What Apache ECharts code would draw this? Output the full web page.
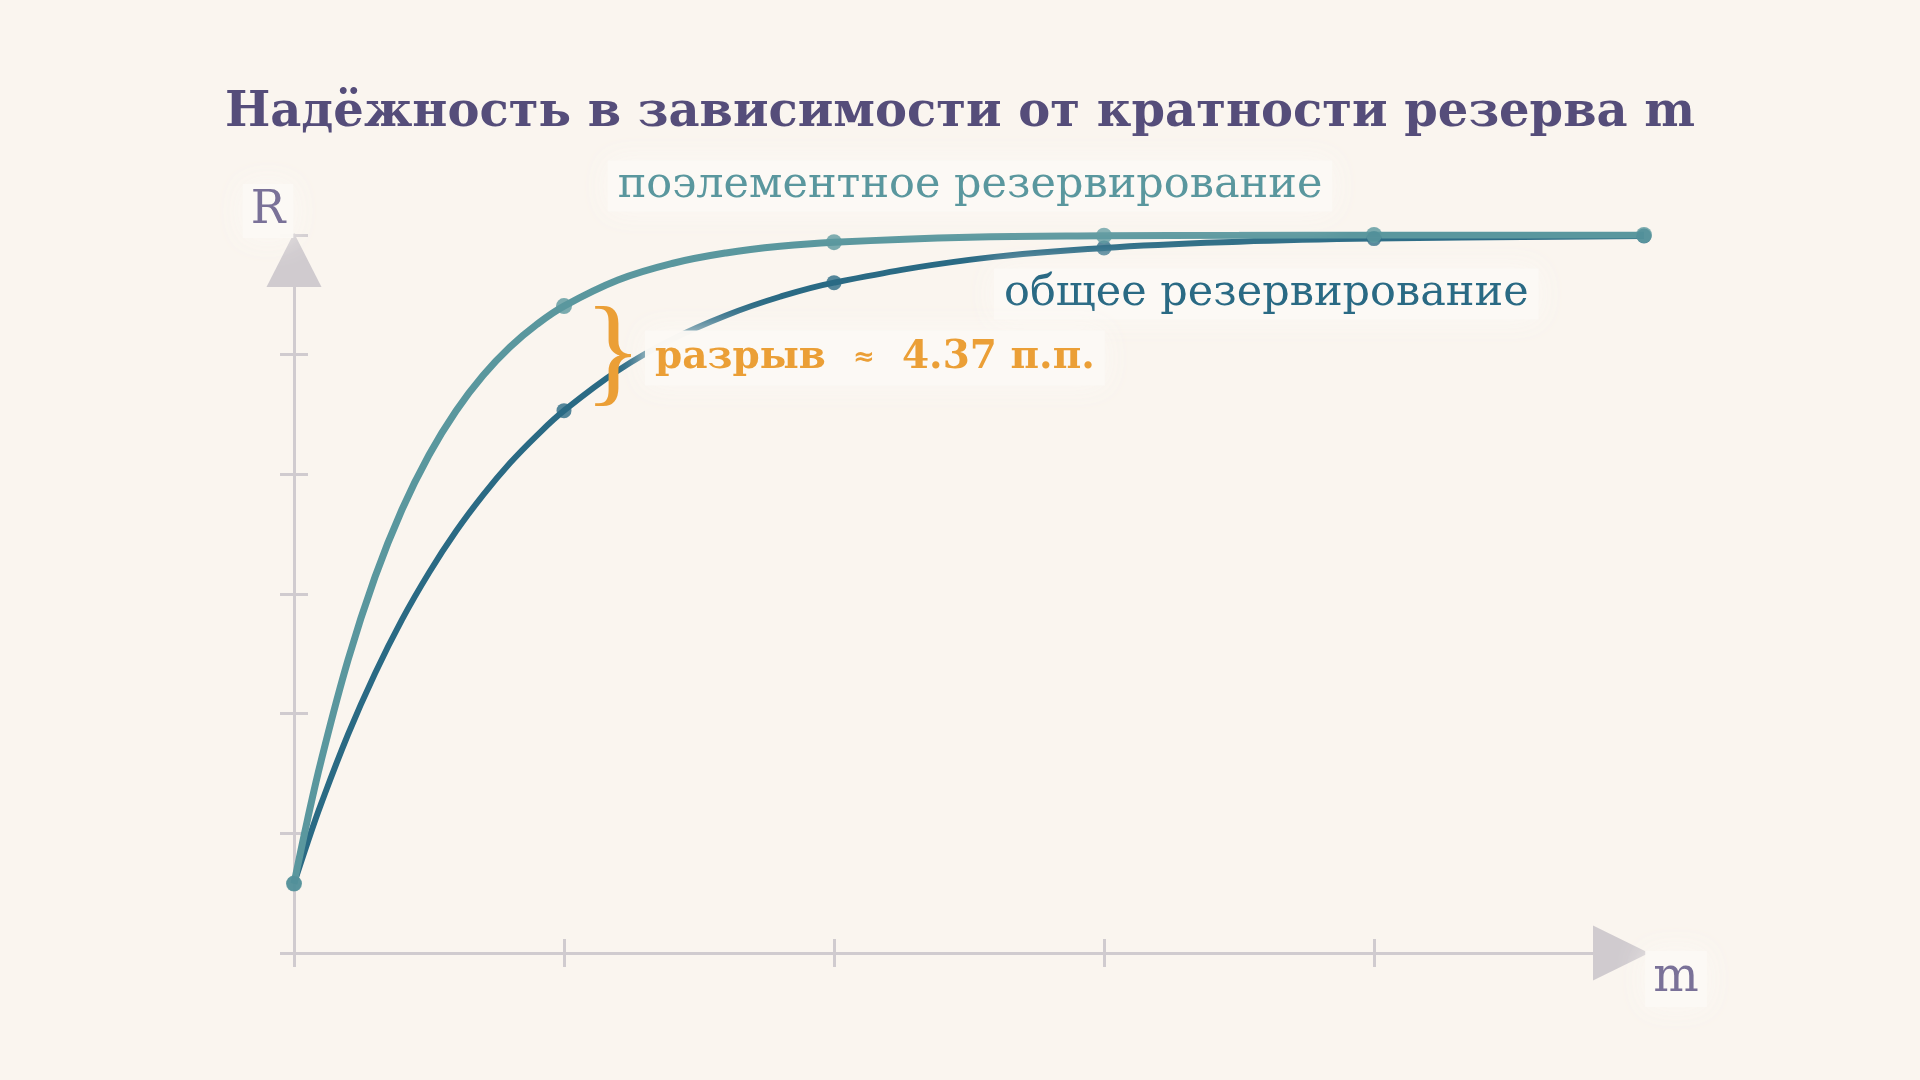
<!DOCTYPE html>
<html>
<head>
<meta charset="utf-8">
<script src="https://cdn.jsdelivr.net/npm/echarts@6/dist/echarts.min.js"></script>
<style>
  html, body { margin: 0; padding: 0; background: #faf5ef; }
  #chart { width: 1920px; height: 1080px; }
</style>
</head>
<body>
<div id="chart"></div>
<script>
// кратность резерва m и надёжность в узлах
const mSteps = [0, 1, 2, 3, 4, 5];
const rElement = [0.729, 0.9703, 0.9970, 0.9997, 1.0, 1.0];
const rGeneral = [0.729, 0.9266, 0.9801, 0.9946, 0.9985, 0.9996];

// промежуточные точки кривых
const curveM = [0, 0.05, 0.1, 0.2, 0.3, 0.4, 0.5, 0.6, 0.7, 0.8, 0.9, 1, 1.2, 1.4, 1.6, 1.8, 2, 2.5, 3, 3.5, 4, 5];
const curveElementR = [0.729, 0.7557, 0.7801, 0.8224, 0.8571, 0.8853, 0.9081, 0.9265, 0.9413, 0.9532, 0.9627, 0.9703,
  0.9812, 0.9881, 0.9925, 0.9953, 0.9970, 0.9991, 0.9997, 0.9999, 1.0, 1.0];
const curveGeneralR = [0.729, 0.7461, 0.7622, 0.7913, 0.8168, 0.8393, 0.8589, 0.8762, 0.8913, 0.9047, 0.9163, 0.9266,
  0.9434, 0.9564, 0.9664, 0.9742, 0.9801, 0.9896, 0.9946, 0.9972, 0.9985, 0.9996];

const xTicks = [0, 1, 2, 3, 4];
const yTicks = { min: 0.7, max: 1.0, step: 0.05 };

const BG = '#faf5ef';
const AXIS = '#d0cbcf';
const C_ELEM = '#5a979e';
const C_GEN = '#2a6a84';
const C_GAP = '#eb9f36';
const SERIF = '"DejaVu Serif", serif';

const pairs = (xs, ys) => xs.map((x, i) => [x, ys[i]]);

const chart = echarts.init(document.getElementById('chart'));

const xBase = { type: 'value', min: 0, max: 5, interval: 1, position: 'bottom', splitLine: { show: false }, axisLabel: { show: false } };
const yBase = { type: 'value', min: yTicks.min, max: yTicks.max, interval: yTicks.step, position: 'left', splitLine: { show: false }, axisLabel: { show: false } };
const tick = { length: 14, lineStyle: { color: AXIS, width: 3 } };

// мягкая подложка под подписями
const halo = (pad) => ({
  backgroundColor: 'rgba(252,249,245,0.96)',
  shadowBlur: 30,
  shadowColor: 'rgba(252,249,245,1)',
  padding: pad
});

const option = {
  backgroundColor: BG,
  animation: false,
  grid: { left: 294, right: 276, top: 235, bottom: 127 },
  xAxis: [
    Object.assign({}, xBase, {
      axisLine: { lineStyle: { color: AXIS, width: 3 }, symbol: ['none', 'triangle'], symbolSize: [55, 56], symbolOffset: [0, -23] },
      axisTick: Object.assign({ inside: false, customValues: xTicks }, tick)
    }),
    Object.assign({}, xBase, {
      axisLine: { show: false },
      axisTick: Object.assign({ inside: true, customValues: xTicks }, tick)
    })
  ],
  yAxis: [
    Object.assign({}, yBase, {
      axisLine: { lineStyle: { color: AXIS, width: 3 }, symbol: ['none', 'triangle'], symbolSize: [55, 54], symbolOffset: [0, -25] },
      axisTick: Object.assign({ inside: false }, tick)
    }),
    Object.assign({}, yBase, {
      axisLine: { show: false },
      axisTick: Object.assign({ inside: true }, tick)
    })
  ],
  series: [
    {
      type: 'line', data: pairs(curveM, curveGeneralR), smooth: 0.4,
      showSymbol: false, lineStyle: { color: C_GEN, width: 6 }, z: 2
    },
    {
      type: 'line', data: pairs(curveM, curveElementR), smooth: 0.4,
      showSymbol: false, lineStyle: { color: C_ELEM, width: 7 }, z: 3
    },
    {
      type: 'scatter', data: pairs(mSteps, rGeneral), symbolSize: 15,
      itemStyle: { color: C_GEN }, z: 4
    },
    {
      type: 'scatter', data: pairs(mSteps, rElement), symbolSize: 16,
      itemStyle: { color: C_ELEM }, z: 5
    }
  ],
  graphic: [
    { type: 'text', left: 'center', top: 90, z: 100,
      style: { text: 'Надёжность в зависимости от кратности резерва m', font: 'bold 48px ' + SERIF, fill: '#554d7a' } },
    { type: 'text', x: 268, y: 211, z: 100,
      style: Object.assign({ text: 'R', font: '46px ' + SERIF, fill: '#7a7198', align: 'center', verticalAlign: 'middle' }, halo([4, 8])) },
    { type: 'text', x: 1676, y: 979, z: 100,
      style: Object.assign({ text: 'm', font: '48px ' + SERIF, fill: '#7a7198', align: 'center', verticalAlign: 'middle' }, halo([4, 8])) },
    { type: 'text', x: 970, y: 186, z: 100,
      style: Object.assign({ text: 'поэлементное резервирование', font: '43px ' + SERIF, fill: C_ELEM, align: 'center', verticalAlign: 'middle' }, halo([4, 10])) },
    { type: 'text', x: 994, y: 294, z: 100,
      style: Object.assign({ text: 'общее резервирование', font: '43px ' + SERIF, fill: C_GEN, align: 'left', verticalAlign: 'middle' }, halo([4, 10])) },
    { type: 'text', x: 645, y: 358, z: 100,
      style: Object.assign({
        text: '{a|разрыв  }{s|≈}{a|  4.37 п.п.}',
        fill: C_GAP, align: 'left', verticalAlign: 'middle',
        rich: {
          a: { font: 'bold 39px ' + SERIF, fill: C_GAP },
          s: { font: 'bold 26px ' + SERIF, fill: C_GAP }
        }
      }, halo([8, 10])) },
    { type: 'text', x: 613, y: 358, z: 101,
      style: { text: '}', font: '120px "Liberation Serif", serif', fill: C_GAP, align: 'center', verticalAlign: 'middle' } }
  ]
};

chart.setOption(option);
</script>
</body>
</html>
